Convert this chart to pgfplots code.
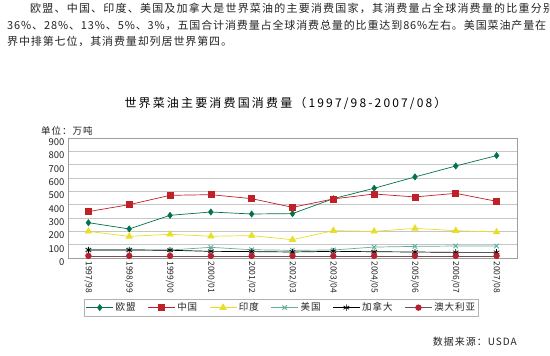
\documentclass[border=0pt]{standalone}
\usepackage{pgfplots}
\pgfplotsset{compat=1.18}
\usepackage{fontspec}
\setmainfont{Noto Sans CJK SC}
\newfontfamily\parafont{Noto Sans CJK SC}[LetterSpace=11]
\newfontfamily\parafontb{Noto Sans CJK SC}[LetterSpace=8]
\newfontfamily\titlefont{Noto Sans CJK SC}[LetterSpace=18]
\newfontfamily\spfont{Noto Sans CJK SC}[LetterSpace=10]
\definecolor{eu}{RGB}{0,115,75}
\definecolor{cn}{RGB}{192,32,40}
\definecolor{ind}{RGB}{232,222,40}
\definecolor{usa}{RGB}{95,175,155}
\definecolor{aus}{RGB}{185,30,45}
\definecolor{ausline}{RGB}{110,85,85}
\definecolor{txt}{RGB}{35,35,35}
\begin{document}
\begin{tikzpicture}[x=1pt,y=1pt]
\useasboundingbox (0,0) rectangle (550,356);
\clip (0,0) rectangle (550,356);
\node[anchor=west, inner sep=0, text=txt, font=\parafont\fontsize{11}{13}\selectfont] at (30,348) {欧盟、中国、印度、美国及加拿大是世界菜油的主要消费国家，其消费量占全球消费量的比重分别};
\node[anchor=west, inner sep=0, text=txt, font=\parafontb\fontsize{11}{13}\selectfont] at (7,331) {36\%、28\%、13\%、5\%、3\%，五国合计消费量占全球消费总量的比重达到86\%左右。美国菜油产量在};
\node[anchor=west, inner sep=0, text=txt, font=\parafontb\fontsize{11}{13}\selectfont] at (7,314.5) {界中排第七位，其消费量却列居世界第四。};
\node[inner sep=0, text=black, font=\titlefont\fontsize{12}{14}\selectfont] at (285.5,253) {世界菜油主要消费国消费量（1997/98-2007/08）};
\node[anchor=west, inner sep=0, text=txt, font=\spfont\fontsize{9.5}{11}\selectfont] at (41,225) {单位：万吨};
\node[anchor=east, inner sep=0, text=txt, font=\spfont\fontsize{10}{12}\selectfont] at (517,14) {数据来源：USDA};
\begin{axis}[
  at={(68pt,98pt)}, anchor=south west,
  scale only axis, width=449pt, height=120pt,
  xmin=-0.5, xmax=10.5, ymin=0, ymax=900,
  ytick={0,100,...,900},
  xtick={0,...,10},
  xticklabels={1997/98,1998/99,1999/00,2000/01,2001/02,2002/03,2003/04,2004/05,2005/06,2006/07,2007/08},
  x tick label style={rotate=-90, anchor=west, font=\fontsize{8.5}{10}\selectfont, text=txt},
  y tick label style={font=\fontsize{9.5}{11}\selectfont, text=txt, yshift=-4pt},
  /pgf/number format/assume math mode=true,
  major tick length=0pt,
  ymajorgrids,
  major grid style={gray!45, line width=0.9pt},
  axis line style={gray!75, line width=0.8pt},
  tick align=outside,
  legend columns=-1,
  legend style={at={(0.036,-0.342)}, anchor=north west, draw=gray!60, line width=0.5pt,
    font=\spfont\fontsize{9.5}{11}\selectfont, inner sep=1.5pt, text=txt,
    /tikz/every even column/.append style={column sep=10pt}},
  legend image code/.code={\draw[mark repeat=2, mark phase=2] plot coordinates {(0pt,0pt) (13.5pt,0pt) (27pt,0pt)};},
  every axis plot/.append style={line width=0.7pt},
]
\addplot[color=eu, mark=diamond*, mark size=3pt] coordinates {(0,265) (1,218) (2,320) (3,345) (4,330) (5,333) (6,445) (7,523) (8,608) (9,690) (10,768)};
\addlegendentry{欧盟}
\addplot[color=cn, mark=square*, mark size=3pt] coordinates {(0,348) (1,400) (2,470) (3,475) (4,445) (5,380) (6,443) (7,480) (8,458) (9,485) (10,425)};
\addlegendentry{中国}
\addplot[color=ind, mark=triangle*, mark size=3.6pt] coordinates {(0,200) (1,162) (2,178) (3,163) (4,168) (5,137) (6,205) (7,200) (8,222) (9,205) (10,195)};
\addlegendentry{印度}
\addplot[color=usa, mark=x, mark size=3.2pt, mark options={line width=0.9pt}] coordinates {(0,60) (1,60) (2,60) (3,80) (4,62) (5,58) (6,60) (7,82) (8,87) (9,90) (10,90)};
\addlegendentry{美国}
\addplot[color=black, mark=asterisk, mark size=3.2pt] coordinates {(0,60) (1,60) (2,58) (3,50) (4,48) (5,45) (6,50) (7,47) (8,45) (9,42) (10,42)};
\addlegendentry{加拿大}
\addplot[color=ausline, mark=*, mark size=2.8pt, mark options={fill=aus, draw=aus}] coordinates {(0,16) (1,16) (2,16) (3,16) (4,16) (5,16) (6,16) (7,16) (8,16) (9,16) (10,16)};
\addlegendentry{澳大利亚}
\end{axis}
\end{tikzpicture}
\end{document}
